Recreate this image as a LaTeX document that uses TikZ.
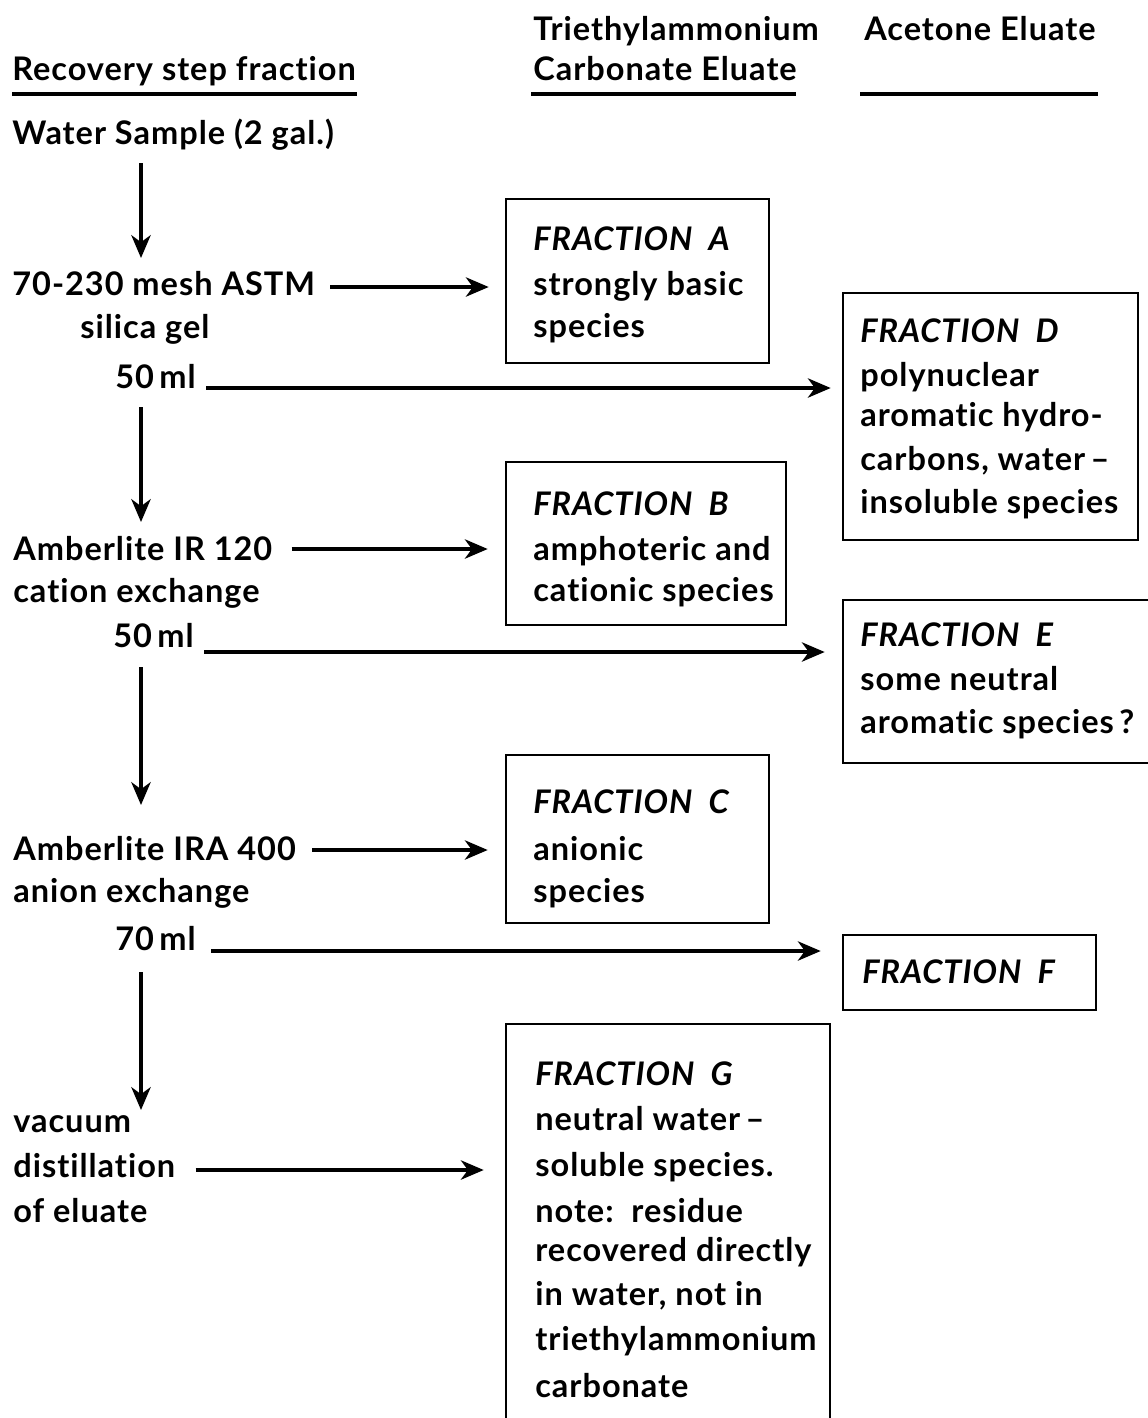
\documentclass[tikz,border=0pt]{standalone}
\usepackage{fontspec}
\setmainfont{Lato}[Ligatures={NoCommon,NoRequired,NoContextual},LetterSpace=3]
\usetikzlibrary{arrows.meta}
\newcommand\fsz{\fontsize{18.5}{23}\selectfont\bfseries}
\begin{document}
\begin{tikzpicture}[x=0.02cm,y=-0.02cm,
  txt/.style={anchor=base west,inner sep=0pt,font=\fsz},
  ftitle/.style={anchor=base west,inner sep=0pt,font=\fsz\itshape},
  fracbox/.style={draw,line width=1.5pt,inner sep=0pt},
  arr/.style={line width=2pt,-{Stealth[length=13pt,width=11pt,inset=4pt]}},
  uline/.style={line width=1.8pt}]
\useasboundingbox (0,0) rectangle (1148,1418);
\coordinate (colx) at (141,0);
% headers
\node[txt] (h1) at (12,80) {Recovery step fraction};
\node[txt] (h2a) at (533,40) {Triethylammonium};
\node[txt] (h2b) at (533,80) {Carbonate Eluate};
\node[txt] (h3) at (864,40) {Acetone Eluate};
\draw[uline] (12,94) -- (357,94);
\draw[uline] (531,94) -- (796,94);
\draw[uline] (860,94) -- (1098,94);
% left column
\node[txt] (lwater) at (12,144) {Water Sample (2 gal.)};
\node[txt] (l70) at (12,295) {70-230 mesh ASTM};
\node[txt] (lsil) at (80,338) {silica gel};
\node[txt] (lml1) at (115,388) {50\,ml};
\node[txt] (lamb1) at (13,560) {Amberlite IR 120};
\node[txt] (lcat) at (13,602) {cation exchange};
\node[txt] (lml2) at (113,647) {50\,ml};
\node[txt] (lamb2) at (13,860) {Amberlite IRA 400};
\node[txt] (lan) at (13,902) {anion exchange};
\node[txt] (lml3) at (115,950) {70\,ml};
\node[txt] (lvac) at (13,1132) {vacuum};
\node[txt] (ldist) at (13,1177) {distillation};
\node[txt] (lof) at (13,1222) {of eluate};
% boxes
\node[fracbox,minimum width=5.26cm,minimum height=3.28cm] (boxA) at (637.5,281) {};
\node[fracbox,minimum width=5.6cm,minimum height=3.26cm] (boxB) at (646,543.5) {};
\node[fracbox,minimum width=5.26cm,minimum height=3.36cm] (boxC) at (637.5,839) {};
\node[fracbox,minimum width=5.9cm,minimum height=4.94cm] (boxD) at (990.5,416.5) {};
\node[fracbox,minimum width=6.34cm,minimum height=3.26cm] (boxE) at (1001.5,681.5) {};
\node[fracbox,minimum width=5.06cm,minimum height=1.5cm] (boxF) at (969.5,972.5) {};
\node[fracbox,minimum width=6.48cm,minimum height=8.32cm] (boxG) at (668,1232) {};
% box texts
\node[ftitle] (a0) at (533,250) {FRACTION\ \ A};
\node[txt] (a1) at (533,295) {strongly basic};
\node[txt] (a2) at (533,337) {species};
\node[ftitle] (b0) at (533,515) {FRACTION\ \ B};
\node[txt] (b1) at (533,560) {amphoteric and};
\node[txt] (b2) at (533,601) {cationic species};
\node[ftitle] (c0) at (533,813) {FRACTION\ \ C};
\node[txt] (c1) at (533,860) {anionic};
\node[txt] (c2) at (533,902) {species};
\node[ftitle] (d0) at (860,342) {FRACTION\ \ D};
\node[txt] (d1) at (860,386) {polynuclear};
\node[txt] (d2) at (860,426) {aromatic hydro-};
\node[txt] (d3) at (860,470) {carbons, water\,--};
\node[txt] (d4) at (860,513) {insoluble species};
\node[ftitle] (e0) at (860,646) {FRACTION\ \ E};
\node[txt] (e1) at (860,690) {some neutral};
\node[txt] (e2) at (860,733) {aromatic species\,?};
\node[ftitle] (f0) at (862,983) {FRACTION\ \ F};
\node[ftitle] (g0) at (535,1085) {FRACTION\ \ G};
\node[txt] (g1) at (535,1130) {neutral water\,--};
\node[txt] (g2) at (535,1176) {soluble species.};
\node[txt] (g3) at (535,1222) {note:\ \ residue};
\node[txt] (g4) at (535,1261) {recovered directly};
\node[txt] (g5) at (535,1305) {in water, not in};
\node[txt] (g6) at (535,1350) {triethylammonium};
\node[txt] (g7) at (535,1397) {carbonate};
% vertical arrows
\draw[arr] ([yshift=-0.38cm]lwater.base -| colx) -- ([yshift=0.74cm]l70.base -| colx);
\draw[arr] ([yshift=-0.38cm]lml1.base -| colx) -- ([yshift=0.76cm]lamb1.base -| colx);
\draw[arr] ([yshift=-0.40cm]lml2.base -| colx) -- ([yshift=1.10cm]lamb2.base -| colx);
\draw[arr] ([yshift=-0.44cm]lml3.base -| colx) -- ([yshift=0.44cm]lvac.base -| colx);
% horizontal arrows
\draw[arr,shorten <=0.3cm,shorten >=0.32cm] ([yshift=0.16cm]l70.base east) -- ([yshift=0.16cm]boxA.west |- l70.base);
\draw[arr,shorten <=0.2cm,shorten >=0.22cm] (lml1.base east) -- (boxD.west |- lml1.base);
\draw[arr,shorten <=0.38cm,shorten >=0.34cm] ([yshift=0.22cm]lamb1.base east) -- ([yshift=0.22cm]boxB.west |- lamb1.base);
\draw[arr,shorten <=0.2cm,shorten >=0.34cm] ([yshift=-0.1cm]lml2.base east) -- ([yshift=-0.1cm]boxE.west |- lml2.base);
\draw[arr,shorten <=0.32cm,shorten >=0.34cm] ([yshift=0.2cm]lamb2.base east) -- ([yshift=0.2cm]boxC.west |- lamb2.base);
\draw[arr,shorten <=0.3cm,shorten >=0.42cm] ([yshift=-0.02cm]lml3.base east) -- ([yshift=-0.02cm]boxF.west |- lml3.base);
\draw[arr,shorten <=0.4cm,shorten >=0.42cm] ([yshift=0.14cm]ldist.base east) -- ([yshift=0.14cm]boxG.west |- ldist.base);
\end{tikzpicture}
\end{document}
